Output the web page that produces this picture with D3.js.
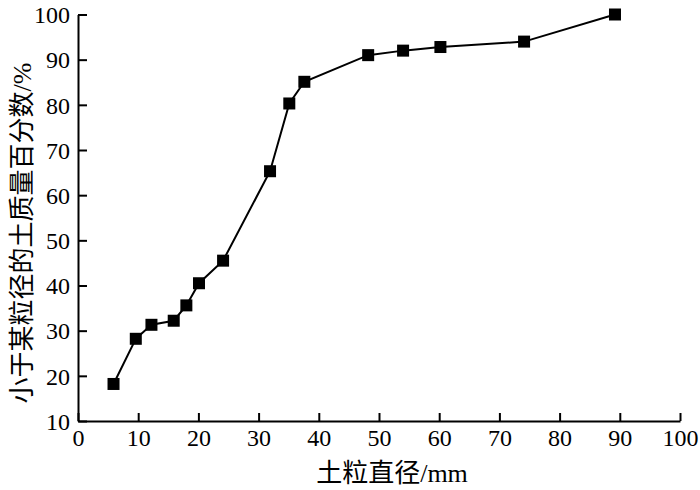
<!DOCTYPE html>
<html>
<head>
<meta charset="utf-8">
<script src="https://cdn.jsdelivr.net/npm/d3@7"></script>
<style>
	body { margin: 0; background: #fff; }
	svg text { font-family: "Liberation Serif", "Noto Sans CJK SC", serif; fill: #000; }
</style>
</head>
<body>
<svg id="chart"></svg>
<script>
/*
	Data
*/
const sizes = [5.9, 9.6, 12.2, 15.9, 18.0, 20.1, 24.1, 31.9, 35.1, 37.6, 48.2, 54.0, 60.2, 74.1, 89.2]
const passing = [18.2, 28.2, 31.3, 32.2, 35.6, 40.5, 45.5, 65.3, 80.3, 85.1, 91.0, 92.0, 92.8, 94.0, 100]
const xTicks = [0, 10, 20, 30, 40, 50, 60, 70, 80, 90, 100]
const yTicks = [10, 20, 30, 40, 50, 60, 70, 80, 90, 100]
const xTitle = '土粒直径/mm'
const yTitle = '小于某粒径的土质量百分数/%'

/*
	Drawing constants
	(plotTop etc, since "top" clashes with window.top)
*/
const [width, height] = [700, 490]
const [plotLeft, plotRight, plotTop, plotBottom] = [78, 680, 14.5, 421]
const markerSize = 12

const svg = d3.select('#chart').attr('width', width).attr('height', height)

const x = d3.scaleLinear().domain([0, 100]).range([plotLeft, plotRight])
const y = d3.scaleLinear().domain([10, 100]).range([plotBottom, plotTop])

//ticks point inward, like the original
const xAxis = d3.axisBottom(x).tickValues(xTicks).tickSizeInner(-8).tickSizeOuter(0).tickPadding(8)
const yAxis = d3.axisLeft(y).tickValues(yTicks).tickSizeInner(-9).tickSizeOuter(0).tickPadding(8)

const gx = svg.append('g').attr('transform', `translate(0,${plotBottom})`).call(xAxis)
const gy = svg.append('g').attr('transform', `translate(${plotLeft},0)`).call(yAxis)

for (const g of [gx, gy]) {
	g.select('.domain').attr('stroke', '#000').attr('stroke-width', 2)
	g.selectAll('.tick line').attr('stroke', '#000').attr('stroke-width', 2)
	g.selectAll('.tick text').attr('font-size', 24).attr('font-family', '"Liberation Serif", serif')
}
gx.selectAll('.tick text').attr('dy', '0.72em')
gy.selectAll('.tick text').attr('dy', '0.34em')

//axis titles
svg.append('text')
	.attr('x', 392).attr('y', 482)
	.attr('text-anchor', 'middle')
	.attr('font-size', 26)
	.text(xTitle)
svg.append('text')
	.attr('transform', 'translate(31,233) rotate(-90)')
	.attr('text-anchor', 'middle')
	.attr('font-size', 26)
	.text(yTitle)

//series
const points = sizes.map((d, i) => ({x: d, y: passing[i]}))
const line = d3.line().x(d => x(d.x)).y(d => y(d.y))

svg.append('path')
	.datum(points)
	.attr('fill', 'none')
	.attr('stroke', '#000')
	.attr('stroke-width', 2)
	.attr('d', line)

svg.append('g').selectAll('rect')
	.data(points)
	.join('rect')
	.attr('x', d => x(d.x) - markerSize / 2)
	.attr('y', d => y(d.y) - markerSize / 2)
	.attr('width', markerSize)
	.attr('height', markerSize)
	.attr('fill', '#000')
</script>
</body>
</html>
